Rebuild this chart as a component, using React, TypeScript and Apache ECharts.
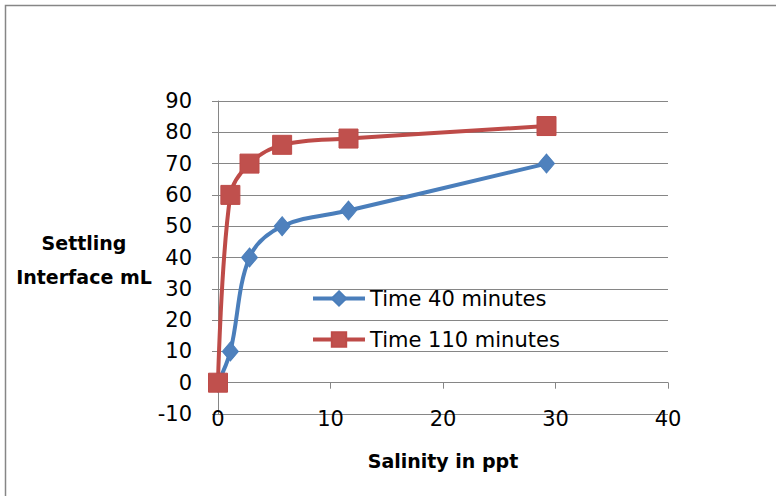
import React, { useEffect, useRef } from "react";
import * as echarts from "echarts";

// Salinity (ppt) of each sample
const salinity = [0, 1.1, 2.8, 5.7, 11.6, 29.2];
// Settling interface (mL) read after 40 and 110 minutes
const time40 = [0, 10, 40, 50, 55, 70];
const time110 = [0, 60, 70, 76, 78, 82];

const seriesNames = ["Time 40 minutes", "Time 110 minutes"];
const yTitle = ["Settling", "Interface mL"];
const xTitle = "Salinity in ppt";

const FONT = "DejaVu Sans";
const GRID = "#868686";
const BLUE_LINE = "#4A7EBB";
const BLUE_FILL = "#4F81BD";
const RED_LINE = "#BE4B48";
const RED_FILL = "#C0504D";

export default function App() {
  const ref = useRef<HTMLDivElement>(null);

  useEffect(() => {
    if (!ref.current) return;
    const chart = echarts.init(ref.current, null, { renderer: "svg" });

    const pairs = (ys: number[]) => salinity.map((x, i) => [x, ys[i]]);

    chart.setOption({
      animation: false,
      backgroundColor: "#ffffff",
      grid: { left: 218, right: 108, top: 101, bottom: 82, containLabel: false },
      xAxis: {
        type: "value",
        min: 0,
        max: 40,
        interval: 10,
        axisLine: { show: true, onZero: true, lineStyle: { color: GRID, width: 1 } },
        axisTick: { show: true, inside: false, length: 6, lineStyle: { color: GRID } },
        axisLabel: { color: "#000", fontFamily: FONT, fontSize: 21, margin: -6 },
        splitLine: { show: false },
      },
      yAxis: {
        type: "value",
        min: -10,
        max: 90,
        interval: 10,
        axisLine: { show: true, lineStyle: { color: GRID, width: 1 } },
        axisTick: { show: true, inside: false, length: 6, lineStyle: { color: GRID } },
        axisLabel: { color: "#000", fontFamily: FONT, fontSize: 21, margin: 26 },
        splitLine: { show: true, lineStyle: { color: GRID, width: 1 } },
      },
      legend: {
        orient: "vertical",
        left: 306,
        top: 283,
        itemWidth: 52,
        itemHeight: 18,
        itemGap: 20,
        textStyle: { color: "#000", fontFamily: FONT, fontSize: 21 },
        data: [
          { name: seriesNames[0], lineStyle: { width: 4, color: BLUE_LINE } },
          { name: seriesNames[1], lineStyle: { width: 4, color: RED_LINE } },
        ],
      },
      series: [
        {
          name: seriesNames[0],
          type: "line",
          data: pairs(time40),
          smooth: 0.35,
          symbol: "diamond",
          symbolSize: [16, 19],
          lineStyle: { color: BLUE_LINE, width: 4 },
          itemStyle: { color: BLUE_FILL, borderColor: BLUE_LINE, borderWidth: 1 },
          emphasis: { disabled: true },
        },
        {
          name: seriesNames[1],
          type: "line",
          data: pairs(time110),
          smooth: 0.35,
          symbol: "rect",
          symbolSize: 19,
          lineStyle: { color: RED_LINE, width: 4 },
          itemStyle: { color: RED_FILL, borderColor: RED_LINE, borderWidth: 1 },
          emphasis: { disabled: true },
        },
      ],
      graphic: [
        {
          type: "rect",
          shape: { x: 5.5, y: 5.5, width: 900, height: 700 },
          style: { fill: "none", stroke: GRID, lineWidth: 1.5 },
          silent: true,
        },
        {
          type: "text",
          x: 84,
          y: 243,
          style: {
            text: yTitle[0],
            fontFamily: FONT,
            fontSize: 19,
            fontWeight: "bold",
            fill: "#000",
            align: "center",
            verticalAlign: "middle",
          },
        },
        {
          type: "text",
          x: 84,
          y: 277,
          style: {
            text: yTitle[1],
            fontFamily: FONT,
            fontSize: 19,
            fontWeight: "bold",
            fill: "#000",
            align: "center",
            verticalAlign: "middle",
          },
        },
        {
          type: "text",
          x: 443,
          y: 461,
          style: {
            text: xTitle,
            fontFamily: FONT,
            fontSize: 19,
            fontWeight: "bold",
            fill: "#000",
            align: "center",
            verticalAlign: "middle",
          },
        },
      ],
    });

    return () => chart.dispose();
  }, []);

  return (
    <div
      ref={ref}
      style={{ position: "fixed", left: 0, top: 0, width: 776, height: 496, background: "#fff" }}
    />
  );
}
